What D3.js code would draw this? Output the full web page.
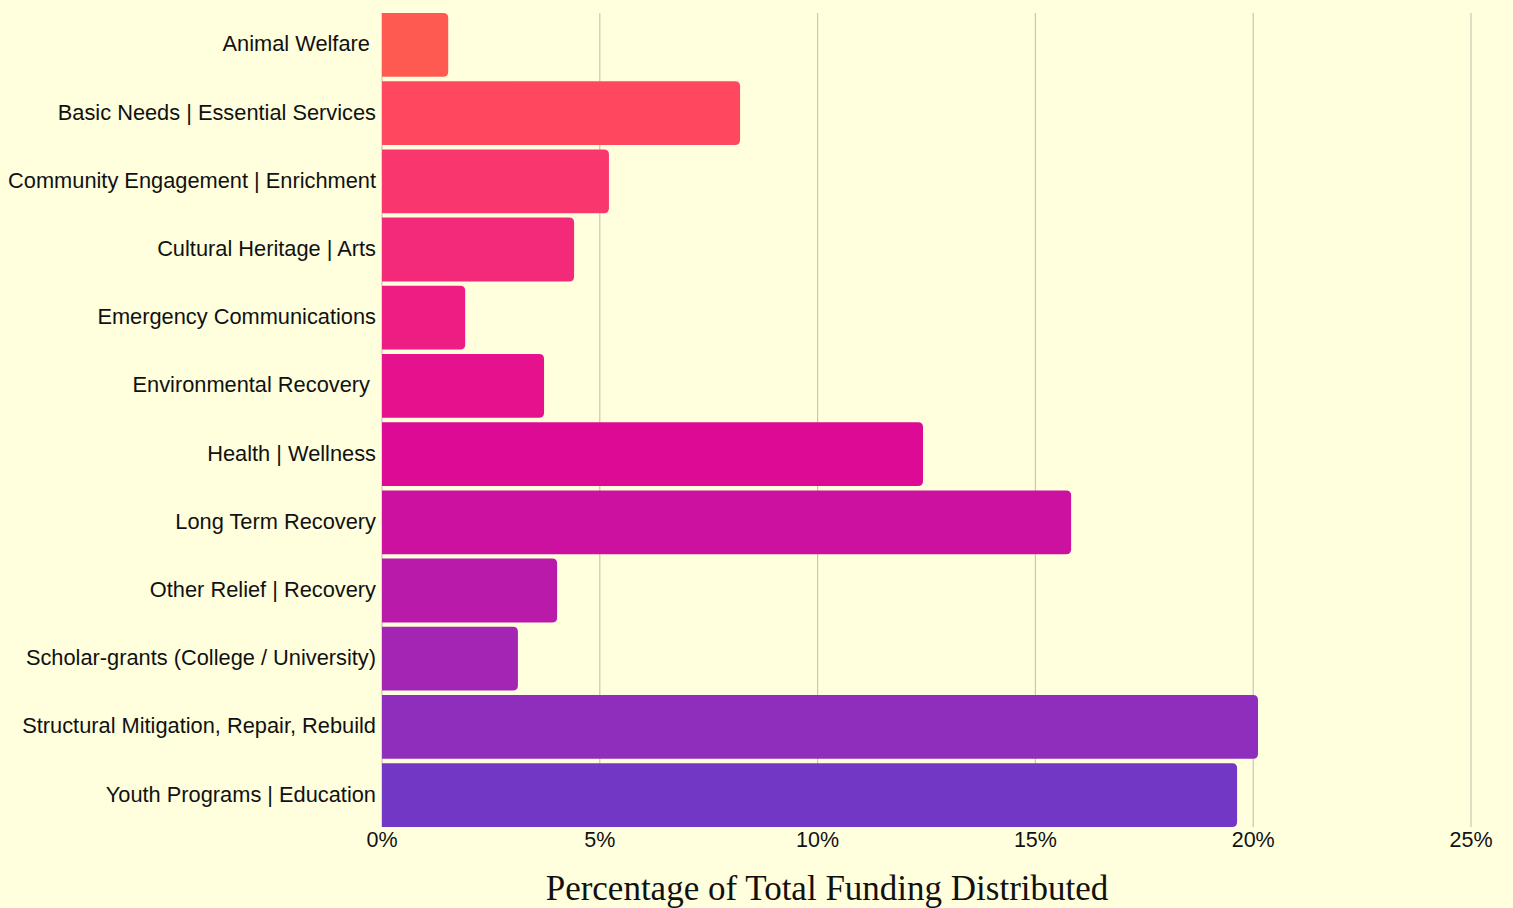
<!DOCTYPE html>
<html>
<head>
<meta charset="utf-8">
<script src="https://cdn.jsdelivr.net/npm/d3@7"></script>
<style>
  body { margin: 0; background: #ffffdd; }
  svg { display: block; }
</style>
</head>
<body>
<div id="chart"></div>
<script>
var categories = [
  "Animal Welfare ",
  "Basic Needs | Essential Services",
  "Community Engagement | Enrichment",
  "Cultural Heritage | Arts",
  "Emergency Communications",
  "Environmental Recovery ",
  "Health | Wellness",
  "Long Term Recovery",
  "Other Relief | Recovery",
  "Scholar-grants (College / University)",
  "Structural Mitigation, Repair, Rebuild",
  "Youth Programs | Education"
];
var values = [1.52, 8.22, 5.21, 4.41, 1.91, 3.72, 12.42, 15.82, 4.02, 3.12, 20.11, 19.63];
var colors = ["#ff5a52", "#ff4860", "#f9376e", "#f32a7a", "#ee1d84", "#e6118c",
              "#dc0a94", "#cc109f", "#b91aaa", "#a424b4", "#8f2dbc", "#7337c6"];
var ticks = [0, 5, 10, 15, 20, 25];
var xTitle = "Percentage of Total Funding Distributed";

var w = 1513;
var h = 908;
var margin = { top: 13, right: 42, bottom: 81, left: 382 };

var svg = d3.select("#chart")
            .append("svg")
            .attr("width", w)
            .attr("height", h)
            .style("background", "#ffffdd");

var xScale = d3.scaleLinear()
               .domain([0, 25])
               .range([margin.left, w - margin.right]);

var yScale = d3.scaleBand()
               .domain(categories)
               .range([margin.top, h - margin.bottom])
               .paddingInner(0.065)
               .paddingOuter(0);

// grid lines
svg.append("g")
   .selectAll("line")
   .data(ticks)
   .enter()
   .append("line")
   .attr("x1", function(d) { return xScale(d); })
   .attr("x2", function(d) { return xScale(d); })
   .attr("y1", margin.top)
   .attr("y2", h - margin.bottom)
   .attr("stroke", "#c8c8b4")
   .attr("stroke-width", 1.2);

// bars: square on the left, rounded on the right
var r = 5;
svg.append("g")
   .selectAll("path")
   .data(values)
   .enter()
   .append("path")
   .attr("fill", function(d, i) { return colors[i]; })
   .attr("d", function(d, i) {
     var x0 = xScale(0), x1 = xScale(d);
     var y0 = yScale(categories[i]), bh = yScale.bandwidth();
     return "M" + x0 + "," + y0 +
            "H" + (x1 - r) +
            "Q" + x1 + "," + y0 + " " + x1 + "," + (y0 + r) +
            "V" + (y0 + bh - r) +
            "Q" + x1 + "," + (y0 + bh) + " " + (x1 - r) + "," + (y0 + bh) +
            "H" + x0 + "Z";
   });

// y labels
svg.append("g")
   .selectAll("text")
   .data(categories)
   .enter()
   .append("text")
   .attr("x", margin.left - 6)
   .attr("y", function(d) { return yScale(d) + yScale.bandwidth() / 2; })
   .attr("dy", "0.3em")
   .attr("text-anchor", "end")
   .attr("xml:space", "preserve")
   .style("white-space", "pre")
   .style("font-family", "'Liberation Sans', Arial, sans-serif")
   .style("font-size", "21.8px")
   .style("fill", "#111")
   .text(function(d) { return d; });

// x tick labels
svg.append("g")
   .selectAll("text")
   .data(ticks)
   .enter()
   .append("text")
   .attr("x", function(d) { return xScale(d); })
   .attr("y", 847)
   .attr("text-anchor", "middle")
   .style("font-family", "'Liberation Sans', Arial, sans-serif")
   .style("font-size", "21.5px")
   .style("fill", "#111")
   .text(function(d) { return d + "%"; });

svg.append("text")
   .attr("x", 827)
   .attr("y", 900)
   .attr("text-anchor", "middle")
   .style("font-family", "'Liberation Serif', 'DejaVu Serif', serif")
   .style("font-size", "35px")
   .style("fill", "#111")
   .text(xTitle);
</script>
</body>
</html>
